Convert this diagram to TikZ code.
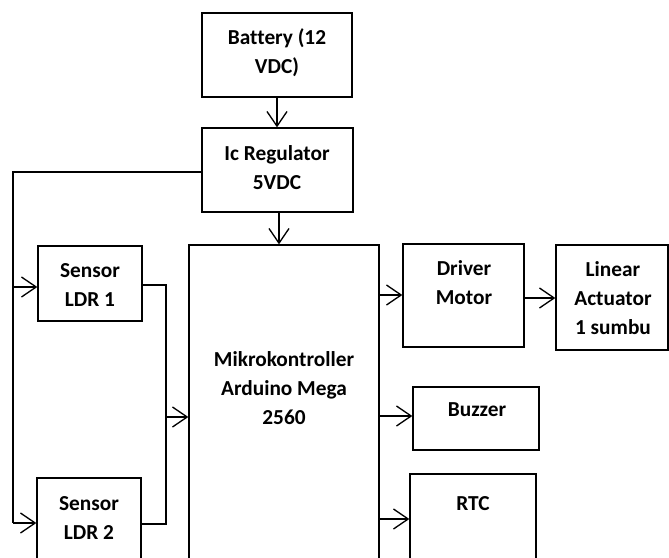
\documentclass[tikz,border=0pt]{standalone}
\usepackage{fontspec}
\setmainfont{Carlito}[Ligatures=NoCommon]
\usetikzlibrary{arrows.meta,fit}
\begin{document}
\begin{tikzpicture}[x=0.75pt,y=-0.75pt,
  line width=1pt,
  box/.style={draw, rectangle, inner sep=0pt, line width=1pt},
  txt/.style={inner sep=0pt, align=center, anchor=north,
    font=\fontsize{16}{21.75}\selectfont\bfseries},
  arr/.style={-{Straight Barb[length=11pt,width=15pt]}}]
\useasboundingbox (0,0) rectangle (669,558);
\clip (0,0) rectangle (669,558);
% boxes
\node[box, fit={(202,13) (352,97)}] (bat) {};
\node[box, fit={(202,128) (353,212)}] (reg) {};
\node[box, fit={(38,246) (142,321)}] (ldra) {};
\node[box, fit={(37,478) (141,620)}] (ldrb) {};
\node[box, fit={(189,245) (379,620)}] (mik) {};
\node[box, fit={(403,244) (524,347)}] (drv) {};
\node[box, fit={(556,245) (668,350)}] (lin) {};
\node[box, fit={(413,387) (539,450)}] (buz) {};
\node[box, fit={(410,474) (536,620)}] (rtc) {};
% texts
\node[txt] (tbat) at (277,23.7) {\strut Battery (12\\\strut VDC)};
\node[txt] (treg) at (277,139.7) {\strut Ic Regulator\\\strut 5VDC};
\node[txt] (tldra) at (90,256.7) {\strut Sensor\\\strut LDR 1};
\node[txt] (tldrb) at (89,489.7) {\strut Sensor\\\strut LDR 2};
\node[txt] (tmik) at (284,345.7) {\strut Mikrokontroller\\\strut Arduino Mega\\\strut 2560};
\node[txt] (tdrv) at (464,254.7) {\strut Driver\\\strut Motor};
\node[txt] (tlin) at (613,255.7) {\strut Linear\\\strut Actuator\\\strut 1 sumbu};
\node[txt] (tbuz) at (477,395.7) {\strut Buzzer};
\node[txt] (trtc) at (473,489.7) {\strut RTC};
% connectors
\draw[arr] (bat.south) -- (bat.south |- reg.north);
\coordinate (rs) at (279,212);
\draw[arr] (rs) -- (rs |- mik.north);
\coordinate (la) at (13,172);
\coordinate (lb) at (13,287);
\coordinate (lc) at (13,523);
\draw (reg.west |- la) -- (la) -- (lc);
\draw[arr] (lb) -- (lb -| ldra.west);
\draw[arr] (lc) -- (lc -| ldrb.west);
\coordinate (ra) at (166,285);
\coordinate (rb) at (166,417);
\coordinate (rc) at (166,524);
\draw (ldra.east |- ra) -- (ra) -- (rc) -- (ldrb.east |- rc);
\draw[arr] (rb) -- (rb -| mik.west);
\coordinate (oa) at (379,295);
\coordinate (ob) at (379,416);
\coordinate (oc) at (379,519);
\draw[arr] (oa) -- (oa -| drv.west);
\draw[arr] (ob) -- (ob -| buz.west);
\draw[arr] (oc) -- (oc -| rtc.west);
\coordinate (da) at (524,298);
\draw[arr] (da) -- (da -| lin.west);
\end{tikzpicture}
\end{document}
